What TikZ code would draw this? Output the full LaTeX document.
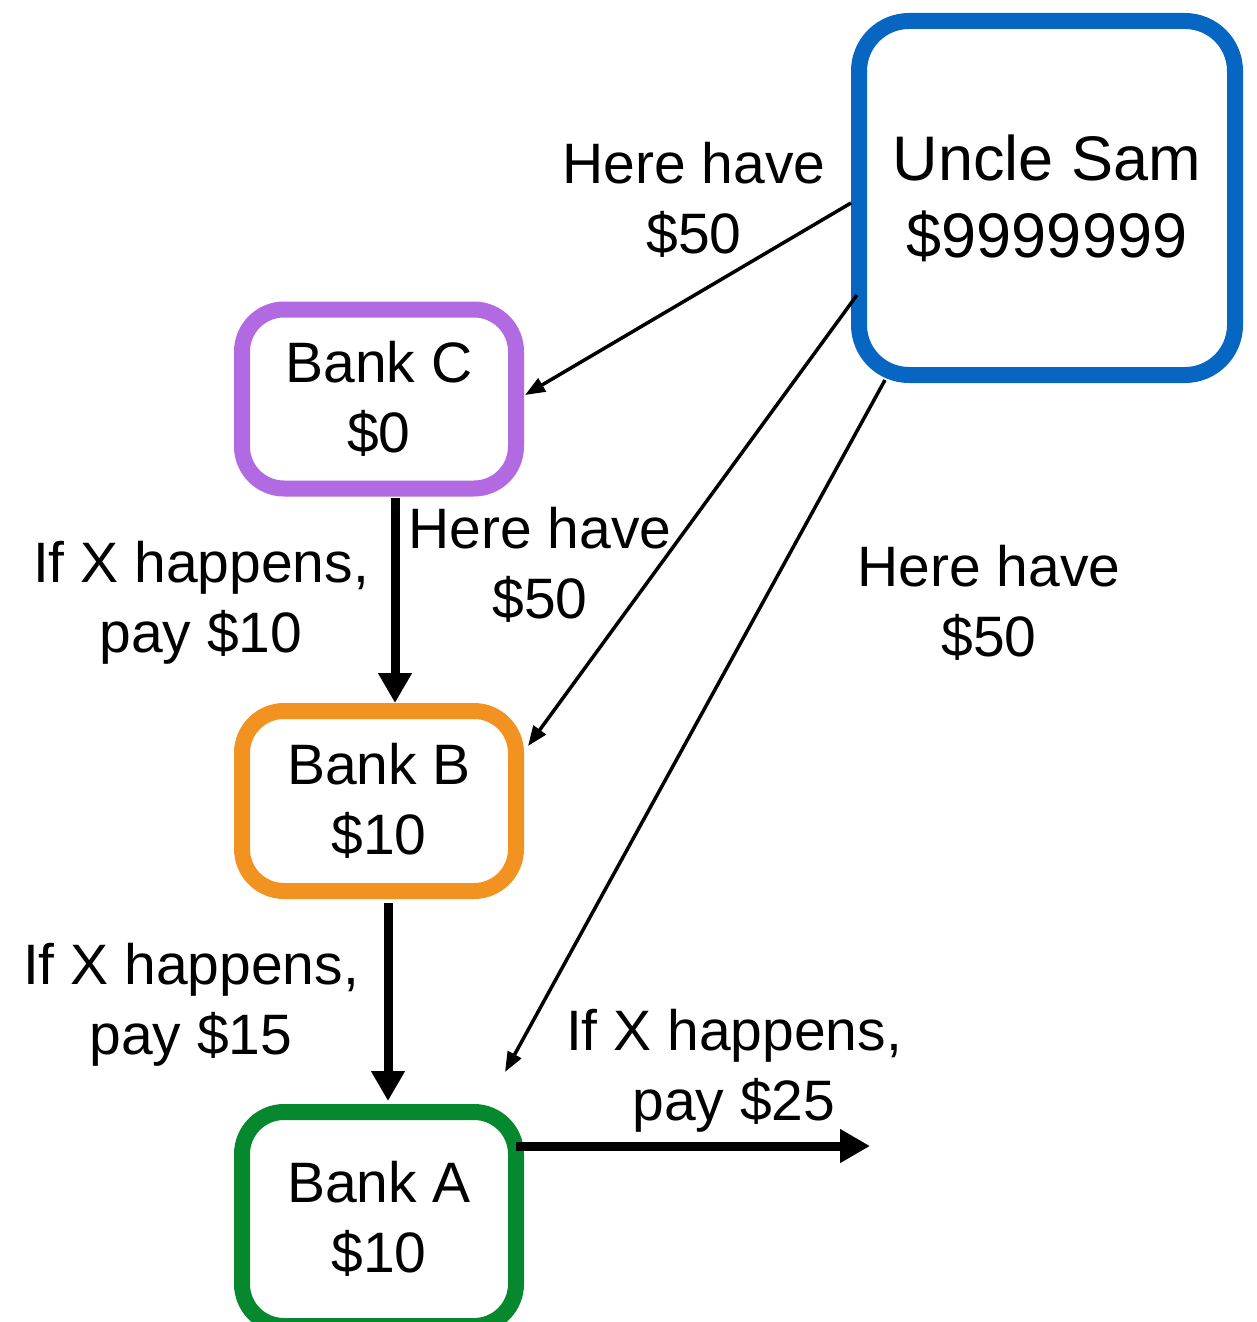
\documentclass[tikz,border=0pt]{standalone}
\usepackage{fontspec}
\setmainfont{Liberation Sans}
\usetikzlibrary{calc,arrows.meta}
\definecolor{samblue}{RGB}{6,102,194}
\definecolor{bankpurple}{RGB}{178,106,226}
\definecolor{bankorange}{RGB}{242,146,33}
\definecolor{bankgreen}{RGB}{6,137,46}
\begin{document}
\begin{tikzpicture}[x=1pt,y=-1pt,
  acct/.style={draw, line width=16pt, rounded corners=42pt, fill=white,
    inner sep=0pt, outer sep=0pt, align=center,
    font=\fontsize{57}{70}\selectfont, minimum width=274pt},
  lbl/.style={align=center, font=\fontsize{57}{70}\selectfont, inner sep=0pt},
  gift/.style={line width=3.5pt, -{Triangle[length=20pt,width=15pt]}},
  claim/.style={line width=9pt, -{Triangle[length=30pt,width=32pt]}}]
\useasboundingbox (0,0) rectangle (1257,1322);

% accounts
\node[acct, draw=samblue, rounded corners=50pt, minimum width=376pt,
  minimum height=354pt, font=\fontsize{63}{77}\selectfont]
  (us) at (1047,198) {Uncle Sam\\\$9999999};
\node[acct, draw=bankpurple, minimum height=179pt] (bc) at (379,399) {Bank C\\\$0};
\node[acct, draw=bankorange, minimum height=180pt] (bb) at (379,801) {Bank B\\\$10};
\node[acct, draw=bankgreen, minimum height=214pt] (ba) at (379,1219) {Bank A\\\$10};

% free ends
\coordinate (toA) at (505,1072);
\coordinate (out) at (870,1146);

% transfers from Uncle Sam
\draw[gift] ($(us.west)+(-8,5)$) -- ($(bc.east)+(9,-4)$);
\draw[gift] ($(us.west)+(-2,97)$) -- ($(bb.north east)+(12,35)$);
\draw[gift] ($(us.south west)+(26,5)$) -- (toA);

% contingent payments
\draw[claim] ($(bc.south)+(16,9)$) -- ($(bb.north)+(16,-8)$);
\draw[claim] ($(bb.south)+(9,12)$) -- ($(ba.north)+(9,-11)$);
\draw[claim] ($(ba.east)+(0,-73)$) -- (out);

% labels
\node[lbl] (l1) at (694,200) {Here have\\\$50};
\node[lbl] (l2) at (540,565) {Here have\\\$50};
\node[lbl] (l3) at (989,603) {Here have\\\$50};
\node[lbl] (p1) at (201,603) {If X happens,\\pay \$10};
\node[lbl] (p2) at (191,1005) {If X happens,\\pay \$15};
\node[lbl] (p3) at (734,1071) {If X happens,\\pay \$25};
\end{tikzpicture}
\end{document}
